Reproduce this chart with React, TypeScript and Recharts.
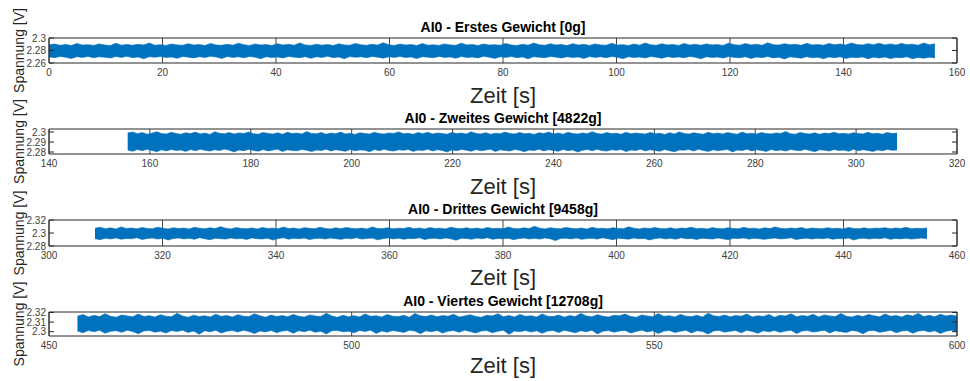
import React from "react";
import {
  ComposedChart,
  Area,
  XAxis,
  YAxis,
  CartesianGrid,
  ReferenceArea,
} from "recharts";

// Min/max envelope of the raw signal per time bin (volts)
const P1_HI = [
  2.2891, 2.2903, 2.2884, 2.2897, 2.288, 2.2912, 2.2887, 2.2894, 2.2882, 2.2906,
  2.2889, 2.2879, 2.2915, 2.2886, 2.2898, 2.2883, 2.2901, 2.2888, 2.292, 2.2885,
  2.2893, 2.2881, 2.2904, 2.289, 2.2884, 2.2909, 2.2887, 2.2896, 2.288, 2.2913,
  2.2889, 2.2883, 2.29, 2.2886, 2.2918, 2.2892, 2.2881, 2.2905, 2.2888, 2.2895,
  2.2879, 2.291, 2.2887, 2.2899, 2.2884, 2.2922, 2.289, 2.2882, 2.2902, 2.2886,
  2.2897, 2.288, 2.2908, 2.2889, 2.2885, 2.2914, 2.2891, 2.2883, 2.29, 2.2887,
  2.2925, 2.2893, 2.2881, 2.2903, 2.2888, 2.2896, 2.2879, 2.2911, 2.2886, 2.2892,
  2.2882, 2.2906, 2.2889, 2.2884, 2.2917, 2.289, 2.2898, 2.288, 2.2904, 2.2887,
  2.2893, 2.2883, 2.2912, 2.2888, 2.2881, 2.2901, 2.2886, 2.2919, 2.2891, 2.2884,
  2.2907, 2.2889, 2.2895, 2.2879, 2.291, 2.2887, 2.2899, 2.2882, 2.2905, 2.289,
  2.2885, 2.2916, 2.2888, 2.2894, 2.288, 2.2903, 2.2886, 2.2921, 2.2892, 2.2883,
  2.2908, 2.2889, 2.2897, 2.2881, 2.2913, 2.2887, 2.29, 2.2884, 2.2906, 2.289,
  2.2896, 2.2882, 2.2918, 2.2893, 2.2886, 2.2911, 2.2889, 2.2902, 2.2884, 2.2924,
  2.2894, 2.2887, 2.2909, 2.2891, 2.2899, 2.2883, 2.2915, 2.289, 2.2896, 2.2885,
  2.2912, 2.2892, 2.2903, 2.2887, 2.292, 2.2895, 2.2889, 2.291, 2.2893, 2.2917,
  2.289, 2.2906, 2.2888, 2.2914, 2.2894, 2.2901, 2.2886, 2.2919, 2.2892, 2.2908,
];
const P1_LO = [
  2.2697, 2.2686, 2.2704, 2.2692, 2.2672, 2.2701, 2.2689, 2.2706, 2.2683, 2.2699,
  2.2693, 2.2679, 2.2703, 2.269, 2.2707, 2.2685, 2.2698, 2.2668, 2.2702, 2.2691,
  2.2705, 2.2687, 2.2696, 2.2676, 2.2704, 2.2694, 2.2682, 2.27, 2.2688, 2.2707,
  2.2695, 2.2673, 2.2703, 2.269, 2.2699, 2.2684, 2.2706, 2.2692, 2.267, 2.2701,
  2.2688, 2.2697, 2.268, 2.2705, 2.2693, 2.2686, 2.2702, 2.2675, 2.2699, 2.269,
  2.2707, 2.2685, 2.2696, 2.2669, 2.2703, 2.2691, 2.27, 2.2683, 2.2706, 2.2694,
  2.2678, 2.2701, 2.2689, 2.2704, 2.2687, 2.2697, 2.2671, 2.2702, 2.2692, 2.2684,
  2.2705, 2.269, 2.2698, 2.2677, 2.2703, 2.2688, 2.2695, 2.2682, 2.2707, 2.2693,
  2.2674, 2.27, 2.2689, 2.2704, 2.2686, 2.2698, 2.2667, 2.2702, 2.2691, 2.2685,
  2.2706, 2.2694, 2.268, 2.2701, 2.2688, 2.2697, 2.2673, 2.2703, 2.269, 2.2699,
  2.2684, 2.2705, 2.2692, 2.267, 2.27, 2.2687, 2.2696, 2.2681, 2.2704, 2.2693,
  2.2676, 2.2702, 2.2689, 2.2698, 2.2683, 2.2706, 2.2691, 2.2668, 2.2701, 2.2688,
  2.2695, 2.2679, 2.2703, 2.269, 2.2685, 2.27, 2.2672, 2.2697, 2.2686, 2.2704,
  2.2681, 2.2694, 2.2666, 2.2699, 2.2688, 2.2677, 2.2702, 2.2684, 2.2692, 2.267,
  2.2697, 2.2683, 2.27, 2.2674, 2.2691, 2.2686, 2.2698, 2.2669, 2.2693, 2.268,
  2.2695, 2.2672, 2.2689, 2.2684, 2.2699, 2.2667, 2.269, 2.2678, 2.2694, 2.2682,
];

const P2_HI = [
  2.299, 2.3001, 2.2983, 2.2995, 2.2978, 2.2988, 2.3003, 2.2985, 2.298, 2.2997,
  2.2986, 2.2977, 2.2993, 2.2984, 2.2999, 2.2981, 2.2989, 2.2976, 2.3002, 2.2987,
  2.2982, 2.2994, 2.2979, 2.2991, 2.2985, 2.3, 2.2983, 2.2978, 2.2996, 2.2986,
  2.298, 2.2992, 2.2977, 2.2998, 2.2984, 2.2989, 2.2979, 2.3004, 2.2986, 2.2982,
  2.2995, 2.2978, 2.299, 2.2983, 2.2999, 2.2981, 2.2987, 2.2976, 2.2993, 2.2985,
  2.298, 2.2997, 2.2984, 2.2979, 2.2991, 2.2986, 2.3001, 2.2982, 2.2988, 2.2977,
  2.2994, 2.2983, 2.2998, 2.298, 2.2989, 2.2985, 2.2978, 2.2996, 2.2984, 2.299,
  2.2979, 2.3002, 2.2986, 2.2981, 2.2993, 2.2977, 2.2988, 2.2983, 2.2999, 2.2985,
  2.298, 2.2995, 2.2982, 2.2987, 2.2976, 2.2992, 2.2984, 2.3, 2.2981, 2.2989,
  2.2978, 2.2997, 2.2985, 2.298, 2.2991, 2.2983, 2.3003, 2.2986, 2.2979, 2.2994,
  2.2984, 2.2988, 2.2977, 2.2998, 2.2982, 2.299, 2.2985, 2.2979, 2.2996, 2.2983,
  2.2987, 2.2976, 2.2993, 2.2981, 2.3001, 2.2986, 2.298, 2.2992, 2.2984, 2.2978,
  2.2997, 2.2983, 2.2989, 2.298, 2.2995, 2.2985, 2.2977, 2.2999, 2.2982, 2.2988,
  2.2979, 2.2994, 2.2984, 2.2981, 2.2991, 2.2986, 2.3004, 2.2983, 2.2978, 2.2996,
  2.2985, 2.298, 2.2992, 2.2977, 2.2989, 2.2984, 2.2998, 2.2982, 2.2987, 2.2979,
  2.2993, 2.2985, 2.2981, 2.2997, 2.2983, 2.2988, 2.2978, 2.2995, 2.2984, 2.299,
];
const P2_LO = [
  2.2819, 2.2807, 2.2825, 2.2813, 2.2828, 2.2816, 2.2803, 2.2822, 2.2811, 2.2826,
  2.2815, 2.282, 2.2806, 2.2824, 2.2812, 2.2827, 2.2817, 2.2809, 2.2823, 2.2814,
  2.2829, 2.2818, 2.2801, 2.2821, 2.2813, 2.2826, 2.2816, 2.2808, 2.2824, 2.2811,
  2.2819, 2.2827, 2.2805, 2.2822, 2.2815, 2.2812, 2.2825, 2.2817, 2.2804, 2.282,
  2.2814, 2.2828, 2.281, 2.2823, 2.2816, 2.2807, 2.2826, 2.2812, 2.2821, 2.2818,
  2.2802, 2.2824, 2.2813, 2.2827, 2.2815, 2.2809, 2.2822, 2.2817, 2.2825, 2.2806,
  2.282, 2.2814, 2.2828, 2.2811, 2.2823, 2.2816, 2.28, 2.2821, 2.2813, 2.2826,
  2.2818, 2.2808, 2.2824, 2.2812, 2.2819, 2.2827, 2.2805, 2.2822, 2.2815, 2.281,
  2.2825, 2.2817, 2.2803, 2.282, 2.2814, 2.2828, 2.2811, 2.2823, 2.2816, 2.2807,
  2.2826, 2.2813, 2.2821, 2.2799, 2.2818, 2.2824, 2.2812, 2.2827, 2.2815, 2.2809,
  2.2822, 2.2817, 2.2825, 2.2804, 2.282, 2.2814, 2.2828, 2.2811, 2.2823, 2.2816,
  2.2808, 2.2826, 2.2813, 2.2802, 2.2821, 2.2818, 2.2824, 2.281, 2.2827, 2.2815,
  2.2806, 2.2822, 2.2812, 2.2819, 2.2825, 2.2801, 2.282, 2.2814, 2.2828, 2.2811,
  2.2823, 2.2816, 2.2805, 2.2826, 2.2813, 2.2821, 2.2809, 2.2824, 2.2817, 2.2812,
  2.2827, 2.2815, 2.2803, 2.2822, 2.2818, 2.281, 2.2825, 2.2814, 2.282, 2.2807,
  2.2828, 2.2813, 2.2823, 2.2816, 2.2804, 2.2821, 2.2812, 2.2826, 2.2817, 2.2819,
];

const P3_HI = [
  2.3074, 2.3088, 2.3066, 2.3079, 2.3062, 2.3093, 2.307, 2.3077, 2.3064, 2.3085,
  2.3071, 2.3067, 2.309, 2.3073, 2.3063, 2.3081, 2.3069, 2.3076, 2.3061, 2.3087,
  2.3072, 2.3065, 2.308, 2.3068, 2.3098, 2.3074, 2.3063, 2.3083, 2.307, 2.3066,
  2.3078, 2.3062, 2.3086, 2.3071, 2.3075, 2.3064, 2.3091, 2.3069, 2.3077, 2.3061,
  2.3082, 2.3073, 2.3066, 2.3089, 2.307, 2.3063, 2.3079, 2.3067, 2.3084, 2.3072,
  2.3065, 2.3076, 2.3062, 2.3094, 2.3071, 2.3068, 2.3081, 2.3064, 2.3075, 2.3069,
  2.3087, 2.3066, 2.3078, 2.3061, 2.3083, 2.307, 2.3074, 2.3063, 2.309, 2.3072,
  2.3067, 2.308, 2.3065, 2.3076, 2.3062, 2.3085, 2.3069, 2.3073, 2.3066, 2.3092,
  2.3071, 2.3064, 2.3079, 2.3068, 2.3102, 2.3075, 2.3063, 2.3082, 2.307, 2.3067,
  2.3086, 2.3072, 2.3065, 2.3077, 2.3061, 2.3088, 2.3069, 2.3074, 2.3064, 2.308,
  2.3071, 2.3066, 2.3095, 2.3073, 2.3063, 2.3078, 2.3068, 2.3084, 2.307, 2.3065,
  2.3081, 2.3062, 2.3076, 2.3072, 2.3089, 2.3067, 2.3074, 2.3063, 2.3083, 2.3069,
  2.3066, 2.3079, 2.3071, 2.3064, 2.3087, 2.307, 2.3075, 2.3062, 2.308, 2.3068,
  2.3093, 2.3073, 2.3065, 2.3077, 2.3069, 2.3084, 2.3063, 2.3076, 2.3071, 2.3066,
  2.3082, 2.3068, 2.3074, 2.3061, 2.3086, 2.307, 2.3067, 2.3079, 2.3064, 2.3075,
  2.3072, 2.3081, 2.3065, 2.3077, 2.3069, 2.3088, 2.3066, 2.3073, 2.307, 2.3078,
];
const P3_LO = [
  2.2912, 2.2898, 2.2921, 2.2908, 2.2925, 2.2903, 2.2917, 2.291, 2.2926, 2.29,
  2.2915, 2.2922, 2.2907, 2.2919, 2.2893, 2.2914, 2.2924, 2.2909, 2.2918, 2.2904,
  2.2927, 2.2911, 2.2896, 2.292, 2.2913, 2.2906, 2.2923, 2.291, 2.2917, 2.2901,
  2.2925, 2.2912, 2.2908, 2.2921, 2.2891, 2.2916, 2.2926, 2.2905, 2.2919, 2.2911,
  2.2923, 2.2899, 2.2914, 2.292, 2.2907, 2.2924, 2.2913, 2.2902, 2.2918, 2.291,
  2.2927, 2.2906, 2.2916, 2.2922, 2.2895, 2.2912, 2.2925, 2.2909, 2.292, 2.2904,
  2.2917, 2.2913, 2.2926, 2.29, 2.2915, 2.2921, 2.2908, 2.2924, 2.2911, 2.2889,
  2.2919, 2.2914, 2.2905, 2.2922, 2.291, 2.2926, 2.2903, 2.2917, 2.2912, 2.292,
  2.2897, 2.2915, 2.2923, 2.2908, 2.2918, 2.2906, 2.2925, 2.2911, 2.2883, 2.2916,
  2.2921, 2.2909, 2.2924, 2.2902, 2.2914, 2.2919, 2.2907, 2.2926, 2.2912, 2.2898,
  2.292, 2.2913, 2.2905, 2.2922, 2.291, 2.2917, 2.2893, 2.2915, 2.2924, 2.2908,
  2.2919, 2.2904, 2.2927, 2.2911, 2.2916, 2.2901, 2.2921, 2.2913, 2.2907, 2.2923,
  2.291, 2.2896, 2.2918, 2.2914, 2.2925, 2.2906, 2.292, 2.2912, 2.2902, 2.2917,
  2.2922, 2.2909, 2.2915, 2.2926, 2.2899, 2.2913, 2.2921, 2.2907, 2.2919, 2.2911,
  2.2924, 2.2904, 2.2916, 2.291, 2.2923, 2.2892, 2.2914, 2.292, 2.2908, 2.2918,
  2.2912, 2.2926, 2.2903, 2.2917, 2.2909, 2.2921, 2.2906, 2.2915, 2.2922, 2.2913,
];

const P4_HI = [
  2.3162, 2.3179, 2.3153, 2.317, 2.3157, 2.3188, 2.316, 2.3151, 2.3174, 2.3164,
  2.3155, 2.3183, 2.3159, 2.3167, 2.3152, 2.3176, 2.3161, 2.3156, 2.3191, 2.3163,
  2.315, 2.3172, 2.3158, 2.3166, 2.3154, 2.3181, 2.316, 2.3169, 2.3153, 2.3177,
  2.3162, 2.3157, 2.3186, 2.3165, 2.3151, 2.3173, 2.3159, 2.3168, 2.3155, 2.318,
  2.3161, 2.3152, 2.3175, 2.3164, 2.3158, 2.3193, 2.3163, 2.315, 2.3171, 2.3156,
  2.3167, 2.3154, 2.3184, 2.316, 2.3166, 2.3153, 2.3178, 2.3162, 2.3157, 2.317,
  2.3151, 2.3189, 2.3165, 2.3158, 2.3174, 2.3155, 2.3168, 2.3161, 2.3182, 2.3152,
  2.3164, 2.3176, 2.3159, 2.315, 2.3172, 2.3163, 2.3187, 2.3156, 2.3169, 2.3154,
  2.3179, 2.316, 2.3166, 2.3152, 2.3185, 2.3162, 2.3157, 2.3173, 2.3151, 2.3168,
  2.3158, 2.319, 2.3164, 2.3155, 2.3177, 2.3161, 2.3153, 2.3171, 2.3166, 2.3183,
  2.3159, 2.315, 2.3175, 2.3163, 2.3156, 2.3188, 2.316, 2.3167, 2.3154, 2.318,
  2.3162, 2.3157, 2.317, 2.3152, 2.3192, 2.3165, 2.3158, 2.3174, 2.3155, 2.3169,
  2.3161, 2.3184, 2.3153, 2.3166, 2.3159, 2.3178, 2.3151, 2.3172, 2.3163, 2.3186,
  2.3156, 2.3168, 2.316, 2.3181, 2.3154, 2.3175, 2.3164, 2.3158, 2.3189, 2.3162,
  2.3152, 2.3171, 2.3157, 2.3179, 2.3165, 2.3155, 2.3184, 2.3161, 2.3168, 2.3153,
  2.3176, 2.3163, 2.319, 2.3158, 2.317, 2.3156, 2.3182, 2.3164, 2.3173, 2.316,
];
const P4_LO = [
  2.3006, 2.2989, 2.3012, 2.2998, 2.3015, 2.2983, 2.3004, 2.301, 2.2993, 2.3014,
  2.3001, 2.2978, 2.3008, 2.3013, 2.2995, 2.3005, 2.2986, 2.3011, 2.3002, 2.3016,
  2.2991, 2.3007, 2.2974, 2.3009, 2.2999, 2.3014, 2.2987, 2.3004, 2.3012, 2.2996,
  2.3015, 2.3003, 2.298, 2.3008, 2.2997, 2.3013, 2.299, 2.3006, 2.3011, 2.2984,
  2.301, 2.3, 2.3016, 2.2993, 2.3005, 2.2976, 2.3009, 2.3013, 2.2998, 2.3004,
  2.2988, 2.3012, 2.3002, 2.3015, 2.2982, 2.3007, 2.2995, 2.3011, 2.3003, 2.2992,
  2.3014, 2.3006, 2.2979, 2.301, 2.2999, 2.3013, 2.2986, 2.3005, 2.3012, 2.2994,
  2.3016, 2.3001, 2.2985, 2.3008, 2.3011, 2.299, 2.3004, 2.3015, 2.2972, 2.3007,
  2.3, 2.3013, 2.2996, 2.3009, 2.2983, 2.3006, 2.3012, 2.2991, 2.3014, 2.3002,
  2.2988, 2.301, 2.2999, 2.3015, 2.2977, 2.3005, 2.3011, 2.2994, 2.3008, 2.3013,
  2.2985, 2.3003, 2.3016, 2.2997, 2.3009, 2.2981, 2.3006, 2.3012, 2.2992, 2.3004,
  2.3014, 2.2987, 2.301, 2.3001, 2.2975, 2.3008, 2.3013, 2.2995, 2.3005, 2.3011,
  2.2989, 2.3015, 2.3002, 2.2983, 2.3009, 2.2998, 2.3012, 2.2993, 2.3006, 2.3014,
  2.298, 2.3007, 2.3011, 2.2996, 2.3004, 2.3016, 2.2986, 2.301, 2.3, 2.2991,
  2.3013, 2.3005, 2.2978, 2.3009, 2.3012, 2.2994, 2.3003, 2.3015, 2.2988, 2.3007,
  2.3011, 2.2984, 2.3006, 2.3013, 2.2997, 2.301, 2.2982, 2.3004, 2.3014, 2.2999,
];

const TITLES = [
  "AI0 - Erstes Gewicht [0g]",
  "AI0 - Zweites Gewicht [4822g]",
  "AI0 - Drittes Gewicht [9458g]",
  "AI0 - Viertes Gewicht [12708g]",
];
// recording start / end time of each weight (s)
const T_START = [0, 155.6, 308.1, 454.7];
const T_END = [156.1, 308.1, 454.7, 600];

const X_TICKS = [
  [0, 20, 40, 60, 80, 100, 120, 140, 160],
  [140, 160, 180, 200, 220, 240, 260, 280, 300, 320],
  [300, 320, 340, 360, 380, 400, 420, 440, 460],
  [450, 500, 550, 600],
];
const Y_TICKS = [
  [2.26, 2.28, 2.3],
  [2.28, 2.29, 2.3],
  [2.28, 2.3, 2.32],
  [2.3, 2.31, 2.32],
];
const Y_DOMAINS: [number, number][] = [
  [2.26, 2.3],
  [2.278, 2.303],
  [2.28, 2.32],
  [2.2955, 2.3205],
];

const HI = [P1_HI, P2_HI, P3_HI, P4_HI];
const LO = [P1_LO, P2_LO, P3_LO, P4_LO];

// layout
const W = 970;
const H = 381;
const PLOT_L = 49;
const PLOT_R = 957;
const BOX_TOP = [38, 129, 220, 312];
const BOX_BOTTOM = [63, 154, 246, 336];
const ZEIT_Y = [103, 194, 285, 373];
const BLUE = "#0072BD";
const AXIS = "#262626";
const FONT = "'Liberation Sans', Arial, Helvetica, sans-serif";

function buildData(i: number) {
  const hi = HI[i];
  const lo = LO[i];
  const n = hi.length;
  const step = (T_END[i] - T_START[i]) / (n - 1);
  return hi.map((h, k) => ({ t: T_START[i] + k * step, range: [lo[k], h] }));
}

const YTick = (props: any) => {
  const { x, y, payload } = props;
  return (
    <g>
      <text
        x={x}
        y={y}
        dy={3.5}
        textAnchor="end"
        fontSize={10}
        fill="#404040"
        fontFamily={FONT}
      >
        {String(payload.value)}
      </text>
      <line x1={PLOT_L} x2={PLOT_L + 5} y1={y} y2={y} stroke={AXIS} />
      <line x1={PLOT_R - 5} x2={PLOT_R} y1={y} y2={y} stroke={AXIS} />
    </g>
  );
};

function Panel({ i }: { i: number }) {
  const top = BOX_TOP[i] - 10;
  const boxH = BOX_BOTTOM[i] - BOX_TOP[i];
  const height = boxH + 10 + 30;
  const xt = X_TICKS[i];
  const yd = Y_DOMAINS[i];
  return (
    <div style={{ position: "absolute", left: 0, top, width: W, height }}>
      <ComposedChart
        width={W}
        height={height}
        data={buildData(i)}
        margin={{ top: 10, right: W - PLOT_R, bottom: 0, left: PLOT_L - 40 }}
      >
        <CartesianGrid horizontal={false} stroke={AXIS} strokeOpacity={0.85} />
        <XAxis
          type="number"
          dataKey="t"
          domain={[xt[0], xt[xt.length - 1]]}
          ticks={xt}
          interval={0}
          height={30}
          tickLine={false}
          axisLine={false}
          tickSize={0}
          tickMargin={6}
          tick={{ fontSize: 10, fill: "#404040", fontFamily: FONT }}
        />
        <YAxis
          type="number"
          domain={yd}
          ticks={Y_TICKS[i]}
          interval={0}
          allowDataOverflow
          width={40}
          tickLine={false}
          axisLine={false}
          tickSize={0}
          tickMargin={3}
          tick={<YTick />}
        />
        <Area
          type="linear"
          dataKey="range"
          stroke={BLUE}
          strokeWidth={0.6}
          fill={BLUE}
          fillOpacity={1}
          dot={false}
          activeDot={false}
          isAnimationActive={false}
        />
        <ReferenceArea
          x1={xt[0]}
          x2={xt[xt.length - 1]}
          y1={yd[0]}
          y2={yd[1]}
          fill="none"
          stroke={AXIS}
          strokeWidth={1}
          ifOverflow="visible"
        />
      </ComposedChart>
    </div>
  );
}

export default function App() {
  const cx = (PLOT_L + PLOT_R) / 2;
  return (
    <div
      style={{
        position: "fixed",
        left: 0,
        top: 0,
        width: W,
        height: H,
        background: "#fff",
        fontFamily: FONT,
      }}
    >
      {TITLES.map((_, i) => (
        <Panel key={i} i={i} />
      ))}
      <svg
        width={W}
        height={H}
        style={{ position: "absolute", left: 0, top: 0, pointerEvents: "none" }}
      >
        {TITLES.map((title, i) => {
          const midY = (BOX_TOP[i] + BOX_BOTTOM[i]) / 2;
          return (
            <g key={i} fontFamily={FONT}>
              <text
                x={cx}
                y={BOX_TOP[i] - 6}
                textAnchor="middle"
                fontSize={14}
                fontWeight="bold"
                fill="#000"
              >
                {title}
              </text>
              <text
                x={cx}
                y={ZEIT_Y[i]}
                textAnchor="middle"
                fontSize={22}
                fill={AXIS}
              >
                Zeit [s]
              </text>
              <text
                x={24}
                y={midY}
                textAnchor="middle"
                fontSize={14}
                fill={AXIS}
                transform={`rotate(-90 24 ${midY})`}
              >
                Spannung [V]
              </text>
            </g>
          );
        })}
      </svg>
    </div>
  );
}
